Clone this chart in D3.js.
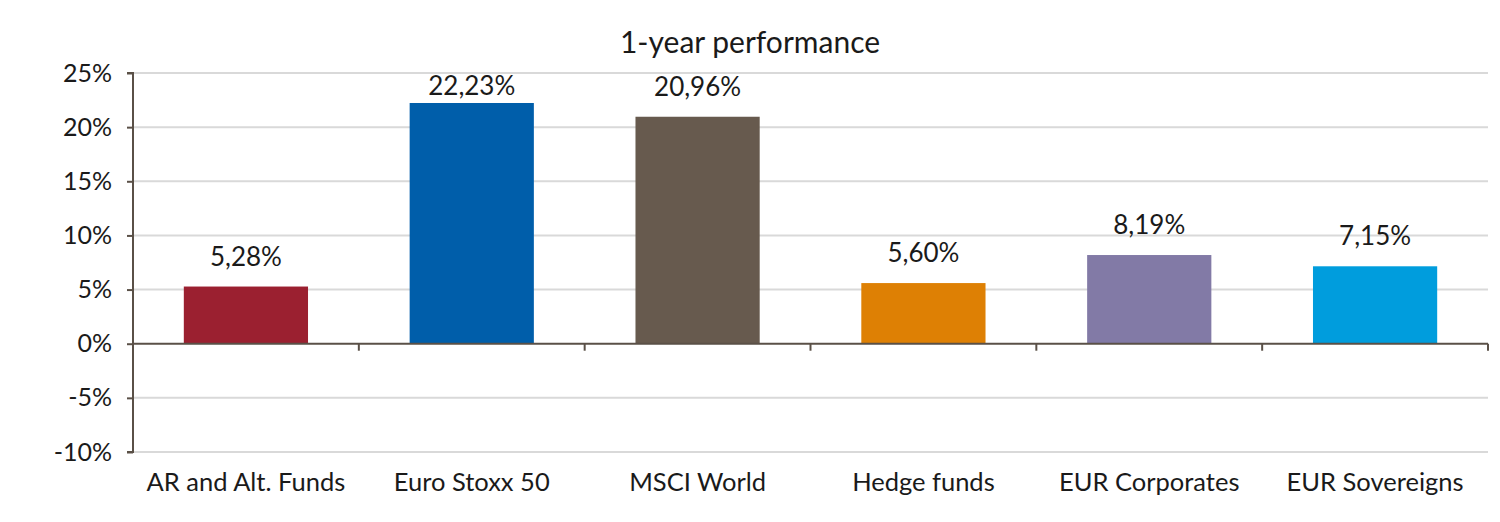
<!DOCTYPE html>
<html lang="en">
<head>
    <meta charset="UTF-8">
    <script src="https://d3js.org/d3.v7.min.js"></script>
    <title>1-year performance</title>
    <style>
        body { margin: 0; background: #fff; }
        text { font-family: Lato, 'Open Sans', sans-serif; fill: #1a1a1a; }
        .axis path, .axis line { stroke: #5a5047; stroke-width: 2; }
        .axis text { font-size: 25px; }
        .grid line { stroke: #d9d9d9; stroke-width: 2; }
    </style>
</head>
<body>
<svg height="522" width="1500"></svg>
<script>
    const width = 1500, height = 522;
    const margin = {top: 73, right: 12, bottom: 70, left: 133};

    const categories = ["AR and Alt. Funds", "Euro Stoxx 50", "MSCI World", "Hedge funds", "EUR Corporates", "EUR Sovereigns"];
    const values = [5.28, 22.23, 20.96, 5.60, 8.19, 7.15];
    const colors = ["#9b2030", "#005eaa", "#675a4e", "#de8004", "#827aa6", "#009ddd"];
    const yTicks = [-10, -5, 0, 5, 10, 15, 20, 25];

    const svg = d3.select("svg");
    const x = d3.scaleBand().domain(categories)
            .range([margin.left, width - margin.right])
            .paddingInner(0.45).paddingOuter(0.225);
    const y = d3.scaleLinear().domain([-10, 25]).range([height - margin.bottom, margin.top]);

    // gridlines
    svg.append("g").attr("class", "grid")
            .selectAll("line").data(yTicks.filter(d => d !== 0)).enter().append("line")
            .attr("x1", margin.left).attr("x2", width - margin.right)
            .attr("y1", y).attr("y2", y);

    // bars
    svg.selectAll("rect.bar").data(values).enter().append("rect")
            .attr("class", "bar")
            .attr("x", (d, i) => x(categories[i]))
            .attr("width", x.bandwidth())
            .attr("y", d => y(Math.max(d, 0)))
            .attr("height", d => Math.abs(y(d) - y(0)))
            .style("fill", (d, i) => colors[i]);

    // value labels (kept inside the plot area like excel does)
    const fmt = d => d.toFixed(2).replace(".", ",") + "%";
    svg.selectAll("text.val").data(values).enter().append("text")
            .attr("class", "val")
            .attr("x", (d, i) => x(categories[i]) + x.bandwidth() / 2)
            .attr("y", d => Math.max(y(d) - 21, y(25) + 22))
            .attr("text-anchor", "middle")
            .style("font-size", "26px")
            .text(fmt);

    // y axis
    const yAxis = d3.axisLeft(y).tickValues(yTicks).tickSize(6).tickPadding(15)
            .tickFormat(d => d + "%");
    svg.append("g").attr("class", "axis")
            .attr("transform", `translate(${margin.left},0)`)
            .call(yAxis)
            .call(g => g.select(".domain").attr("d", `M-6,${y(25)}H0V${y(-10)}H-6`));

    // x axis along zero line, ticks at category boundaries
    const step = x.step();
    const boundaries = d3.range(1, categories.length + 1).map(i => margin.left + i * step);
    const xg = svg.append("g").attr("class", "axis");
    xg.append("line")
            .attr("x1", margin.left).attr("x2", width - margin.right)
            .attr("y1", y(0)).attr("y2", y(0));
    xg.selectAll("line.tick").data(boundaries).enter().append("line")
            .attr("class", "tick")
            .attr("x1", d => d).attr("x2", d => d)
            .attr("y1", y(0)).attr("y2", y(0) + 7);

    // category labels at bottom
    svg.selectAll("text.cat").data(categories).enter().append("text")
            .attr("class", "cat")
            .attr("x", d => x(d) + x.bandwidth() / 2)
            .attr("y", 491)
            .attr("text-anchor", "middle")
            .style("font-size", "25.5px")
            .text(d => d);

    // title
    svg.append("text")
            .attr("x", 750)
            .attr("y", 53)
            .attr("text-anchor", "middle")
            .style("font-size", "30px")
            .text("1-year performance");
</script>
</body>
</html>
